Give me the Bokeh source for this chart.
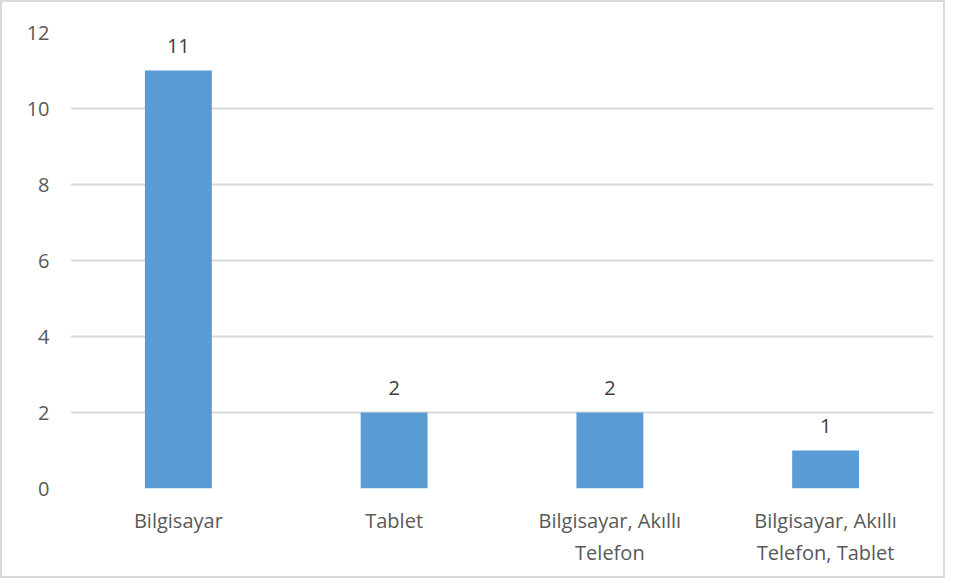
from bokeh.plotting import figure
from bokeh.models import ColumnDataSource, FixedTicker, LabelSet
from bokeh.core.properties import value
from bokeh.embed import file_html
from bokeh.resources import INLINE

categories = ["Bilgisayar", "Tablet", "Bilgisayar, Akıllı\nTelefon", "Bilgisayar, Akıllı\nTelefon, Tablet"]
values = [11, 2, 2, 1]
y_ticks = [0, 2, 4, 6, 8, 10, 12]

src = ColumnDataSource(dict(cat=categories, val=values, lab=[str(v) for v in values]))

p = figure(x_range=categories, y_range=(0, 12), width=945, height=578,
           output_backend="svg", toolbar_location=None,
           min_border_left=68, min_border_right=14, min_border_top=30, min_border_bottom=92)
p.styles = {"border": "2px solid #d9d9d9"}
p.outline_line_color = None
p.vbar(x="cat", top="val", width=0.31, source=src, color="#5B9BD5", line_color=None)

labels = LabelSet(x="cat", y="val", text="lab", source=src, text_align="center",
                  text_baseline="bottom", y_offset=18, text_color="#404040",
                  text_font=value("Open Sans"), text_font_size="20px")
p.add_layout(labels)

p.yaxis.ticker = FixedTicker(ticks=y_ticks)
for ax in (p.xaxis, p.yaxis):
    ax.axis_line_color = None
    ax.major_tick_line_color = None
    ax.minor_tick_line_color = None
    ax.major_label_text_color = "#595959"
    ax.major_label_text_font = "Open Sans"
    ax.major_label_text_font_size = "20px"
p.yaxis.major_label_standoff = 15
p.xaxis.major_label_standoff = 12
p.xgrid.grid_line_color = None
p.ygrid.grid_line_color = "#d9d9d9"
p.ygrid.grid_line_width = 2

open("out.html", "w").write(file_html(p, INLINE))
